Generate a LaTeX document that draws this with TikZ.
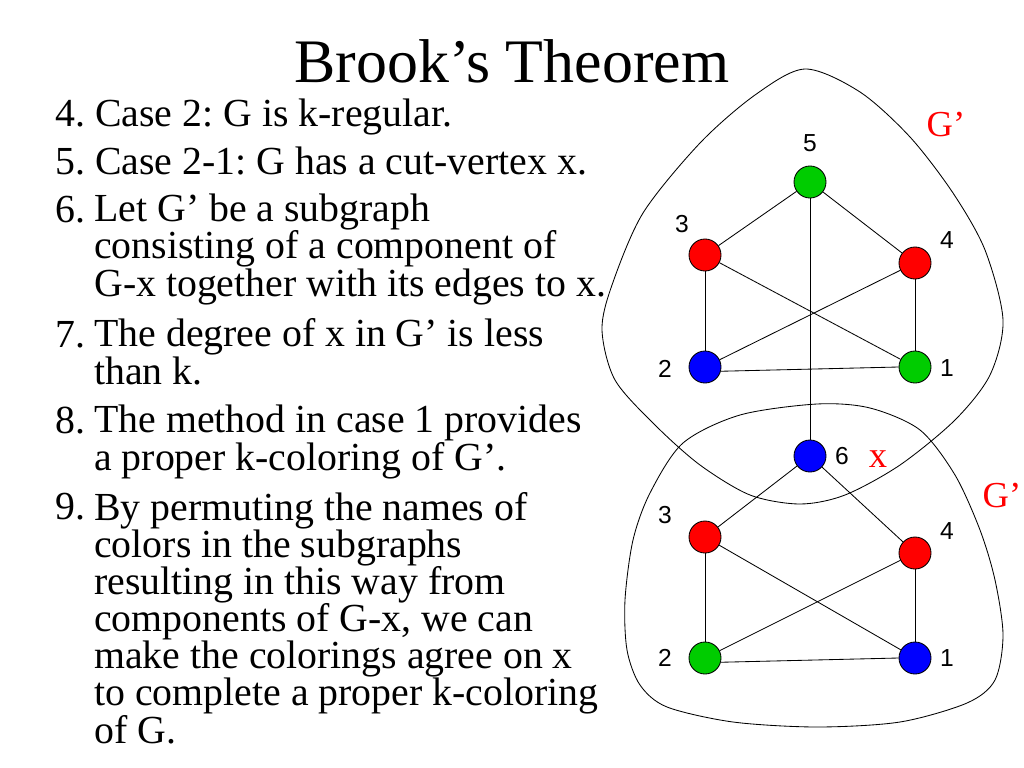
\documentclass[tikz,border=0pt]{standalone}
\usepackage{fontspec}
\setmainfont{Liberation Serif}
\newfontfamily\arialfont{Liberation Sans}
\definecolor{vgreen}{RGB}{0,204,0}
\frenchspacing

\begin{document}
\begin{tikzpicture}[x=0.025cm,y=-0.025cm,
   vtx/.style={circle,draw=black,line width=0.6pt,minimum size=0.8cm,inner sep=0pt},
   num/.style={font=\arialfont\fontsize{17.5}{20}\selectfont,inner sep=0pt},
   body/.style={font={\fontsize{28.3}{26.4}\selectfont\lineskiplimit=-20pt},align=left,anchor=base west,inner sep=0pt},
   tag/.style={font=\fontsize{26}{30}\selectfont,text=red,anchor=base,inner sep=0pt},
   edge/.style={line width=0.6pt}]
   \useasboundingbox (0,0) rectangle (1024,768);
   \node (title) [font=\fontsize{44}{50}\selectfont,anchor=base,inner sep=0pt]
    at (512,83) {Brook’s Theorem};
   % the list (a text of several lines sits on its last line)
   \node (n4) [body] at (55,127) {4.};
   \node (t4) [body] at (95,127) {Case 2: G is k-regular.};
   \node (n5) [body] at (55,175) {5.};
   \node (t5) [body] at (95,175) {Case 2-1: G has a cut-vertex x.};
   \node (n6) [body] at (55,222) {6.};
   \node (t6) [body] at (94,296) {Let G’ be a subgraph\\consisting of a component of\\G-x together with its edges to x.};
   \node (n7) [body] at (55,347) {7.};
   \node (t7) [body] at (94,384) {The degree of x in G’ is less\\than k.};
   \node (n8) [body] at (55,433) {8.};
   \node (t8) [body] at (94,470) {The method in case 1 provides\\a proper k-coloring of G’.};
   \node (n9) [body] at (55,519) {9.};
   \node (t9) [body] at (94,743) {By permuting the names of\\colors in the subgraphs\\resulting in this way from\\components of G-x, we can\\make the colorings agree on x\\to complete a proper k-coloring\\of G.};
   % the two subgraphs
   \draw[edge] plot[smooth cycle] coordinates {(805,69) (860,92) (910,137) (953,193)
    (985,250) (1003,320) (990,375) (955,420) (900,465) (845,495) (800,504) (750,495)
    (700,465) (655,425) (615,380) (602,330) (612,285) (643,213) (700,143) (755,95)};
   \draw[edge] plot[smooth cycle] coordinates {(817,404) (870,408) (920,430) (955,475)
    (980,530) (995,580) (1003,635) (995,680) (967,703) (900,722) (817,727) (733,722)
    (667,707) (640,685) (627,650) (625,600) (633,540) (650,493) (683,443) (740,415)};
   \node (a5) [vtx,fill=vgreen] at (810,182) {};
   \node (a3) [vtx,fill=red] at (705,255) {};
   \node (a4) [vtx,fill=red] at (915,263) {};
   \node (a2) [vtx,fill=blue] at (705,367) {};
   \node (a1) [vtx,fill=vgreen] at (915,367) {};
   \node (v6) [vtx,fill=blue] at (810,456) {};
   \node (b3) [vtx,fill=red] at (705,537) {};
   \node (b4) [vtx,fill=red] at (915,553) {};
   \node (b2) [vtx,fill=vgreen] at (705,658) {};
   \node (b1) [vtx,fill=blue] at (915,658) {};
   \draw[edge] (a5) -- (a3);
   \draw[edge] (a5) -- (a4);
   \draw[edge] (a5) -- (v6);
   \draw[edge] (a3) -- (a2);
   \draw[edge] (a3) -- (a1);
   \draw[edge] (a4) -- (a2);
   \draw[edge] (a4) -- (a1);
   \draw[edge] (a2.-15) -- (a1.180);
   \draw[edge] (v6) -- (b3);
   \draw[edge] (v6) -- (b4);
   \draw[edge] (b3) -- (b2);
   \draw[edge] (b3) -- (b1);
   \draw[edge] (b4) -- (b2);
   \draw[edge] (b4) -- (b1);
   \draw[edge] (b2.-15) -- (b1.180);
   % vertex numbers
   \node (l5) [num] at (810,143) {5};
   \node (l3) [num] at (682,224) {3};
   \node (l4) [num] at (947,240) {4};
   \node (l2) [num] at (665,369) {2};
   \node (l1) [num] at (947,368) {1};
   \node (l6) [num] at (842,456) {6};
   \node (m3) [num] at (665,515) {3};
   \node (m4) [num] at (947,531) {4};
   \node (m2) [num] at (665,658) {2};
   \node (m1) [num] at (947,658) {1};
   \node (gtop) [tag] at (946,137) {G’};
   \node (gbot) [tag] at (1002,507) {G’};
   \node (xtag) [tag] at (878,467) {x};
\end{tikzpicture}
\end{document}
